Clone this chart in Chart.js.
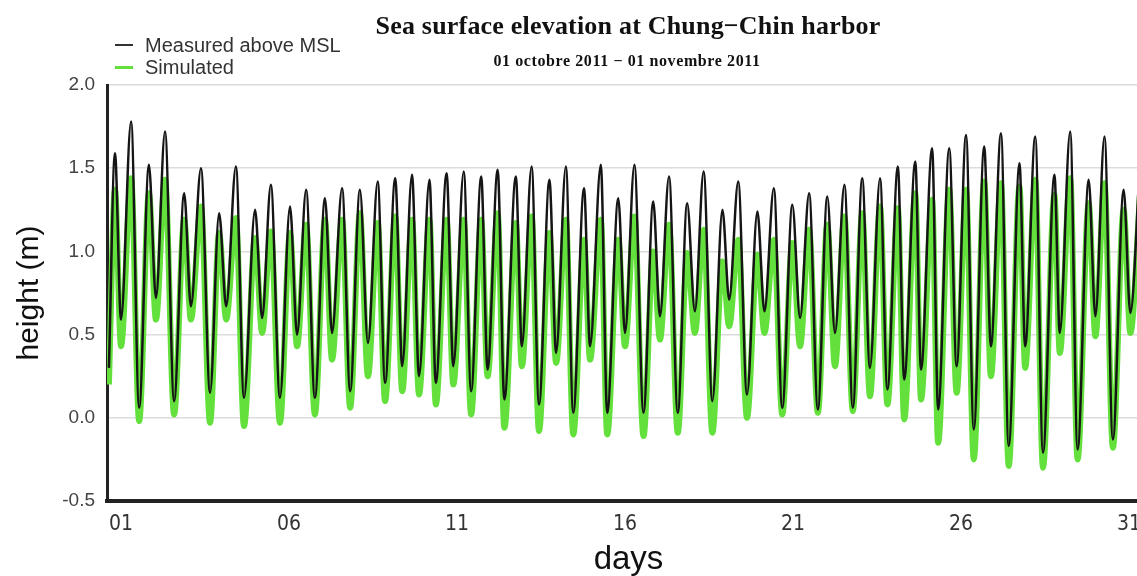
<!DOCTYPE html>
<html>
<head>
<meta charset="utf-8">
<script src="https://cdn.jsdelivr.net/npm/chart.js@4.4.1/dist/chart.umd.min.js"></script>
<style>
  html, body { margin: 0; padding: 0; background: #fff; overflow: hidden; }
  #wrap { position: relative; width: 1137px; height: 576px; overflow: hidden; }
  #tide { position: absolute; left: 0; top: 0; }
  .title { position: absolute; white-space: nowrap; font-family: "Liberation Serif", "Times New Roman", serif; font-weight: bold; color: #111; transform: translateX(-50%); }
  .legend { position: absolute; left: 145px; font-family: "Liberation Sans", Arial, sans-serif; font-size: 20px; line-height: 22px; color: #333; white-space: nowrap; }
  .mark { position: absolute; left: 115px; width: 18px; }
</style>
</head>
<body>
<div id="wrap">
  <canvas id="tide" width="1180" height="576"></canvas>
  <div class="title" style="left:628px; top:11px; font-size:26px; line-height:30px; letter-spacing:0.2px;">Sea surface elevation at Chung−Chin harbor</div>
  <div class="title" style="left:627px; top:52px; font-size:16px; line-height:18px; letter-spacing:0.6px;">01 octobre 2011 − 01 novembre 2011</div>
  <div class="mark" style="top:44px; height:2px; background:#333;"></div>
  <div class="legend" style="top:34px;">Measured above MSL</div>
  <div class="mark" style="top:66px; height:3px; background:#63e03c;"></div>
  <div class="legend" style="top:56px;">Simulated</div>
</div>
<script>
// time in days (October 2011), highs and lows
const days = [
  0.64, 0.82, 1.00, 1.30, 1.54, 1.83, 2.04, 2.31, 2.58, 2.88, 3.08, 3.38, 3.65, 3.92, 4.13, 4.42,
  4.66, 4.99, 5.20, 5.46, 5.73, 6.03, 6.24, 6.51, 6.77, 7.07, 7.28, 7.58, 7.82, 8.11, 8.35, 8.64,
  8.86, 9.16, 9.37, 9.66, 9.87, 10.18, 10.37, 10.69, 10.89, 11.20, 11.42, 11.72, 11.91, 12.21, 12.41, 12.75,
  12.93, 13.22, 13.44, 13.75, 13.95, 14.24, 14.46, 14.78, 14.96, 15.28, 15.47, 15.80, 16.00, 16.28, 16.55, 16.84,
  17.04, 17.31, 17.57, 17.85, 18.08, 18.34, 18.60, 18.90, 19.10, 19.37, 19.63, 19.94, 20.15, 20.43, 20.68, 20.98,
  21.21, 21.48, 21.74, 22.02, 22.25, 22.53, 22.78, 23.06, 23.29, 23.59, 23.81, 24.12, 24.31, 24.64, 24.81, 25.14,
  25.32, 25.65, 25.87, 26.15, 26.38, 26.69, 26.89, 27.19, 27.42, 27.74, 27.91, 28.21, 28.44, 28.78, 28.94, 29.25,
  29.47, 29.80, 30.00, 30.27, 30.52, 30.84, 31.04, 31.33
];

const measured = [
  0.30, 1.59, 0.59, 1.78, 0.06, 1.52, 0.72, 1.72, 0.10, 1.35, 0.67, 1.50, 0.15, 1.23, 0.67, 1.51,
  0.12, 1.25, 0.60, 1.40, 0.12, 1.27, 0.50, 1.37, 0.12, 1.32, 0.51, 1.38, 0.16, 1.37, 0.45, 1.42,
  0.21, 1.44, 0.31, 1.46, 0.25, 1.43, 0.21, 1.47, 0.31, 1.48, 0.16, 1.45, 0.29, 1.49, 0.11, 1.45,
  0.43, 1.51, 0.08, 1.43, 0.39, 1.51, 0.03, 1.38, 0.43, 1.52, 0.03, 1.32, 0.51, 1.52, 0.03, 1.30,
  0.61, 1.45, 0.03, 1.29, 0.64, 1.48, 0.10, 1.25, 0.71, 1.42, 0.14, 1.24, 0.64, 1.38, 0.06, 1.28,
  0.60, 1.35, 0.05, 1.33, 0.51, 1.40, 0.06, 1.44, 0.30, 1.44, 0.17, 1.51, 0.23, 1.54, 0.29, 1.62,
  0.05, 1.62, 0.31, 1.70, -0.07, 1.63, 0.43, 1.71, -0.17, 1.53, 0.43, 1.69, -0.21, 1.46, 0.51, 1.72,
  -0.19, 1.43, 0.61, 1.69, -0.13, 1.37, 0.63, 1.55
];

const simulated = [
  0.20, 1.37, 0.43, 1.44, -0.02, 1.35, 0.59, 1.43, 0.02, 1.19, 0.59, 1.27, -0.03, 1.11, 0.59, 1.20,
  -0.05, 1.08, 0.51, 1.12, -0.03, 1.11, 0.43, 1.16, 0.02, 1.19, 0.35, 1.19, 0.06, 1.23, 0.25, 1.17,
  0.10, 1.21, 0.16, 1.19, 0.14, 1.19, 0.08, 1.19, 0.20, 1.19, 0.02, 1.19, 0.25, 1.23, -0.06, 1.17,
  0.31, 1.21, -0.08, 1.11, 0.33, 1.19, -0.10, 1.07, 0.35, 1.19, -0.10, 1.07, 0.43, 1.21, -0.11, 1.00,
  0.47, 1.16, -0.09, 0.99, 0.51, 1.13, -0.09, 0.94, 0.55, 1.07, 0.00, 0.98, 0.51, 1.07, 0.02, 1.05,
  0.43, 1.13, 0.03, 1.16, 0.31, 1.21, 0.04, 1.23, 0.13, 1.27, 0.08, 1.26, -0.01, 1.35, 0.11, 1.31,
  -0.15, 1.37, 0.15, 1.37, -0.25, 1.42, 0.25, 1.41, -0.29, 1.39, 0.30, 1.43, -0.30, 1.34, 0.39, 1.44,
  -0.25, 1.29, 0.49, 1.41, -0.18, 1.25, 0.51, 1.35
];

const xTickDays = [1, 6, 11, 16, 21, 26, 31];
const yTicks = [-0.5, 0.0, 0.5, 1.0, 1.5, 2.0];

const toPoints = vals => vals.map((v, i) => ({ x: days[i], y: v }));

const ctx = document.getElementById('tide').getContext('2d');
new Chart(ctx, {
  type: 'line',
  data: {
    datasets: [{
      label: 'Measured above MSL',
      data: toPoints(measured),
      borderColor: '#151515',
      borderWidth: 2.5,
      pointRadius: 0,
      cubicInterpolationMode: 'monotone',
      fill: false
    }, {
      label: 'Simulated',
      data: toPoints(simulated),
      borderColor: '#63e03c',
      borderWidth: 6,
      pointRadius: 0,
      cubicInterpolationMode: 'monotone',
      fill: false
    }]
  },
  options: {
    responsive: false,
    animation: false,
    layout: { padding: { left: 6, top: 85, right: 30, bottom: 0 } },
    plugins: {
      legend: { display: false },
      tooltip: { enabled: false }
    },
    scales: {
      x: {
        type: 'linear',
        min: 0.583,
        max: 31.625,
        afterBuildTicks: axis => { axis.ticks = xTickDays.map(v => ({ value: v })); },
        afterFit: axis => { axis.height = 75; },
        grid: { display: false, drawTicks: false },
        border: { display: true, color: '#222', width: 4 },
        ticks: {
          padding: 11,
          color: '#333',
          maxRotation: 0,
          font: { family: '"Liberation Sans Narrow", "DejaVu Sans Condensed", "Liberation Sans", sans-serif', size: 21 },
          callback: v => String(v).padStart(2, '0')
        },
        title: {
          display: true,
          text: 'days',
          color: '#111',
          padding: { top: 0, bottom: 0 },
          font: { family: '"Liberation Sans", Arial, sans-serif', size: 33, lineHeight: 1.0 }
        }
      },
      y: {
        min: -0.5,
        max: 2.0,
        afterBuildTicks: axis => { axis.ticks = yTicks.map(v => ({ value: v })); },
        afterFit: axis => { axis.width = 101; },
        grid: { color: '#dcdcdc', lineWidth: 1.5, drawTicks: false },
        border: { display: true, color: '#222', width: 3 },
        ticks: {
          padding: 12,
          color: '#444',
          font: { family: '"Liberation Sans", Arial, sans-serif', size: 19 },
          callback: v => v.toFixed(1)
        },
        title: {
          display: true,
          text: 'height (m)',
          color: '#111',
          padding: { top: 6, bottom: 4 },
          font: { family: '"Liberation Sans", Arial, sans-serif', size: 30 }
        }
      }
    }
  }
});
</script>
</body>
</html>
